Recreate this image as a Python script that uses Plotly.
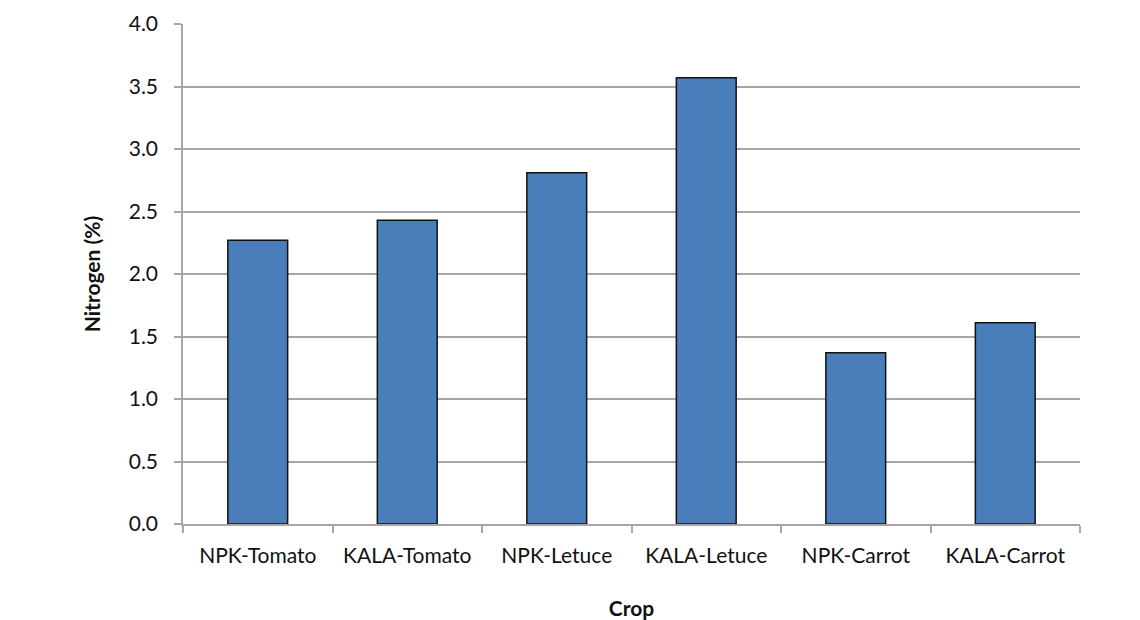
import plotly.graph_objects as go

categories = ["NPK-Tomato", "KALA-Tomato", "NPK-Letuce", "KALA-Letuce", "NPK-Carrot", "KALA-Carrot"]
nitrogen = [2.27, 2.43, 2.81, 3.57, 1.37, 1.61]
y_ticks = [0.0, 0.5, 1.0, 1.5, 2.0, 2.5, 3.0, 3.5, 4.0]
y_tick_labels = ["0.0", "0.5", "1.0", "1.5", "2.0", "2.5", "3.0", "3.5", "4.0"]

font_family = "Lato, 'Open Sans', sans-serif"

fig = go.Figure(
    go.Bar(
        x=categories,
        y=nitrogen,
        width=0.4,
        marker=dict(color="#4a7ebb", line=dict(color="#111111", width=1.5)),
    )
)

fig.update_layout(
    width=1140,
    height=620,
    margin=dict(l=183, r=60, t=24, b=96),
    paper_bgcolor="white",
    plot_bgcolor="white",
    showlegend=False,
    font=dict(family=font_family, size=21, color="#111111"),
    xaxis=dict(
        type="category",
        automargin=False,
        showline=True,
        linecolor="#a6a6a6",
        linewidth=1.5,
        ticks="outside",
        tickson="boundaries",
        ticklen=7,
        tickcolor="#a6a6a6",
        tickwidth=1.5,
        showgrid=False,
        tickfont=dict(size=21),
        ticklabelstandoff=12,
        title=dict(text="<b>Crop</b>", font=dict(size=21), standoff=40),
    ),
    yaxis=dict(
        range=[0, 4.0],
        automargin=False,
        tickvals=y_ticks,
        ticktext=y_tick_labels,
        showline=True,
        linecolor="#a6a6a6",
        linewidth=1.5,
        ticks="outside",
        ticklen=7,
        tickcolor="#a6a6a6",
        tickwidth=1.5,
        showgrid=True,
        gridcolor="#a6a6a6",
        gridwidth=1.5,
        zeroline=False,
        tickfont=dict(size=21),
        ticklabelstandoff=12,
        title=dict(text="<b>Nitrogen (%)</b>", font=dict(size=21), standoff=22),
    ),
)

fig.write_html(
    "out.html",
    config={"displayModeBar": False},
    post_script="document.body.style.margin='0';document.body.style.padding='0';",
)
